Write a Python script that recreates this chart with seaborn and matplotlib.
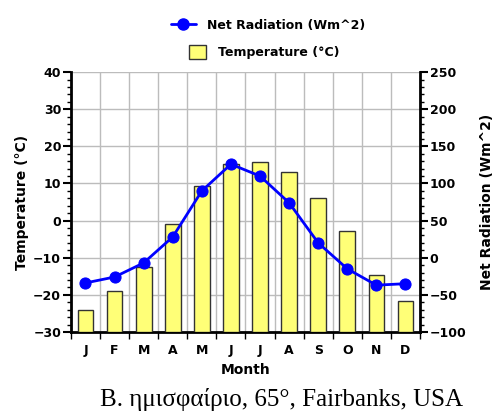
import matplotlib
matplotlib.use("Agg")
import matplotlib.pyplot as plt
from matplotlib.lines import Line2D
from matplotlib.patches import Patch
from matplotlib.ticker import MultipleLocator, FixedLocator, NullFormatter, FixedFormatter
import seaborn as sns
import pandas as pd
import numpy as np

months = ["J", "F", "M", "A", "M", "J", "J", "A", "S", "O", "N", "D"]
temperature = [-24.0, -19.0, -12.6, -0.8, 9.3, 15.2, 15.8, 13.2, 6.0, -2.7, -14.6, -21.8]
net_radiation = [-34, -26, -7, 28, 90, 126, 110, 74, 20, -15, -37, -35]

sns.set_theme(style="white")
plt.rcParams["font.family"] = ["DejaVu Sans"]
plt.rcParams.update({"text.color": "black", "axes.labelcolor": "black",
                     "xtick.color": "black", "ytick.color": "black"})

fig = plt.figure(figsize=(5.03, 4.17), dpi=100)
ax = fig.add_axes([0.141, 0.204, 0.694, 0.623])

idx = np.arange(len(months))
df = pd.DataFrame({"pos": idx, "month": [f"{i}" for i in idx],
                   "temperature": temperature, "net_radiation": net_radiation})

bar_color = "#ffff77"
line_color = "#0000ff"
grid_color = "#bcbcbc"

sns.barplot(data=df, x="month", y="temperature", color=bar_color, width=0.54,
            edgecolor="#333333", linewidth=1.0, saturation=1, ax=ax, zorder=3)
# bars grow from the bottom of the axis
for patch, t in zip(ax.patches, temperature):
    patch.set_y(-30)
    patch.set_height(t + 30)

ax.set_xlim(-0.5, 11.5)
ax.set_ylim(-30, 40)

# horizontal grid at the temperature majors, vertical grid at month boundaries
for v in range(-20, 41, 10):
    ax.axhline(v, color=grid_color, lw=1.0, zorder=1)
for b in np.arange(0.5, 11.5, 1.0):
    ax.axvline(b, color=grid_color, lw=1.0, zorder=1)

ax.yaxis.set_major_locator(MultipleLocator(10))
ax.yaxis.set_minor_locator(MultipleLocator(2))
ax.xaxis.set_major_locator(FixedLocator(np.arange(-0.5, 12.0, 1.0)))
ax.xaxis.set_major_formatter(NullFormatter())
ax.xaxis.set_minor_locator(FixedLocator(idx))
ax.xaxis.set_minor_formatter(FixedFormatter(months))

ax.tick_params(axis="y", which="major", direction="out", length=6, width=1.5,
               labelsize=9, pad=1, left=True)
ax.tick_params(axis="y", which="minor", direction="out", length=3, width=1, left=True)
ax.tick_params(axis="x", which="major", direction="out", length=5, width=1, bottom=True)
ax.tick_params(axis="x", which="minor", length=0, labelsize=9, pad=9)
for lab in ax.get_yticklabels() + ax.get_xticklabels(minor=True):
    lab.set_fontweight("bold")

ax.set_xlabel("Month", fontsize=10, fontweight="bold", labelpad=4)
ax.set_ylabel("Temperature (°C)", fontsize=10, fontweight="bold", labelpad=3)

for side in ["left", "bottom"]:
    ax.spines[side].set_color("black")
    ax.spines[side].set_linewidth(2)
ax.spines["top"].set_visible(False)
ax.spines["right"].set_visible(False)

ax2 = ax.twinx()
sns.lineplot(data=df, x="pos", y="net_radiation", color=line_color, lw=2,
             marker="o", markersize=8, markeredgecolor=line_color, ax=ax2, zorder=4)
ax2.set_ylim(-100, 250)
ax2.set_xlim(-0.5, 11.5)
ax2.yaxis.set_major_locator(MultipleLocator(50))
ax2.yaxis.set_minor_locator(MultipleLocator(10))
ax2.tick_params(axis="y", which="major", direction="out", length=6, width=1.5,
                labelsize=9, pad=1, right=True)
ax2.tick_params(axis="y", which="minor", direction="out", length=3, width=1, right=True)
for lab in ax2.get_yticklabels():
    lab.set_fontweight("bold")
ax2.set_ylabel("Net Radiation (Wm^2)", fontsize=10, fontweight="bold", labelpad=10)
ax2.set_xlabel("")
for side in ["top", "left", "bottom"]:
    ax2.spines[side].set_visible(False)
ax2.spines["right"].set_color("black")
ax2.spines["right"].set_linewidth(2)

# two stacked legend rows above the plot
h1 = Line2D([0], [0], color=line_color, lw=2, marker="o", markersize=8)
h2 = Patch(facecolor=bar_color, edgecolor="#333333", linewidth=1)
leg1 = fig.legend([h1], ["Net Radiation (Wm^2)"], loc="center",
                  bbox_to_anchor=(0.533, 0.94), frameon=False,
                  prop={"weight": "bold", "size": 9}, handlelength=2.0,
                  handletextpad=0.9, borderpad=0)
leg2 = fig.legend([h2], ["Temperature (°C)"], loc="center",
                  bbox_to_anchor=(0.525, 0.875), frameon=False,
                  prop={"weight": "bold", "size": 9}, handlelength=1.4,
                  handleheight=1.4, handletextpad=0.9, borderpad=0)

fig.text(0.56, 0.042, "Β. ημισφαίριο, 65°, Fairbanks, USA", ha="center", va="center",
         fontsize=18, family="Liberation Serif", color="black")

fig.savefig("out.png", dpi=100)
